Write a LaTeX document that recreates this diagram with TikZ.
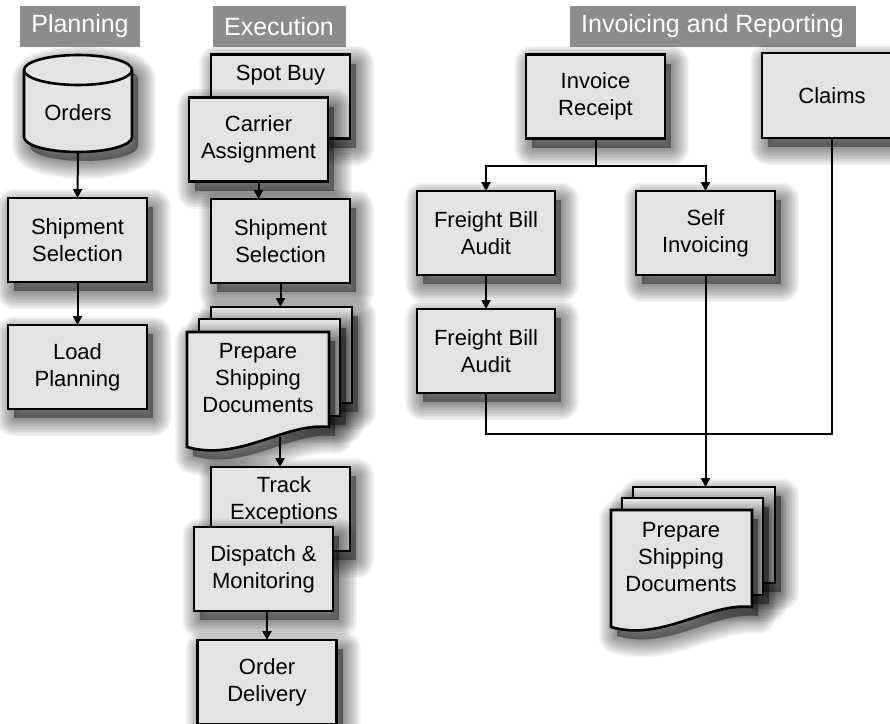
\documentclass[tikz,border=0pt]{standalone}
\usepackage{fontspec}
\setmainfont{Liberation Sans}
\usetikzlibrary{arrows.meta}

\definecolor{boxfill}{HTML}{E3E3E3}
\definecolor{hdrfill}{HTML}{8C8C8C}

\tikzset{
  shadelayer/.style={preaction={transform canvas={shift={(6pt,-9pt)}}, draw=black, fill=black,
    opacity=0.042, line width=#1, line join=round}},
  softshadow/.style={shadelayer=36pt, shadelayer=33pt, shadelayer=30pt, shadelayer=27pt,
    shadelayer=24pt, shadelayer=21pt, shadelayer=18pt, shadelayer=15pt, shadelayer=12pt,
    shadelayer=9pt, shadelayer=6pt, shadelayer=3pt},
  procbox/.style={draw, line width=2.6pt, fill=boxfill, rectangle, minimum width=139pt,
    minimum height=84pt, inner sep=0pt, outer sep=0pt, align=center,
    font=\fontsize{22}{27}\selectfont, softshadow},
  sheet/.style={draw, line width=2.6pt, fill=boxfill, softshadow},
  sheetbox/.style={draw, line width=2.6pt, fill=boxfill, rectangle, inner sep=0pt, outer sep=0pt, softshadow},
  doctext/.style={align=center, inner sep=0pt, font=\fontsize{22}{27}\selectfont},
  arr/.style={line width=2pt, -{Triangle[length=9pt,width=9pt]}},
  wire/.style={line width=2pt},
  hdr/.style={fill=hdrfill, text=white, inner sep=0pt, outer sep=0pt, minimum height=41pt,
    font=\fontsize{25}{28}\selectfont},
}

\begin{document}
\begin{tikzpicture}[x=1pt,y=-1pt]
\useasboundingbox (0,0) rectangle (890,723);
\clip (0,0) rectangle (890,723);

% column headers
\node[hdr, minimum width=120pt] (hplan) at (80,26.5) {Planning};
\node[hdr, minimum width=133pt] (hexec) at (279,26.5) {Execution};
\node[hdr, minimum width=286pt] (hinv) at (712.5,26.5) {Invoicing and Reporting};

% ---------- Planning ----------
\path[sheet] (24,70) -- (24,137)
  arc[start angle=180, end angle=360, x radius=54pt, y radius=15pt]
  -- (132,70)
  arc[start angle=0, end angle=180, x radius=54pt, y radius=15pt] -- cycle;
\draw[line width=2.6pt] (24,70) arc[start angle=180, end angle=360, x radius=54pt, y radius=15pt];
\node[rectangle, minimum width=108pt, minimum height=97pt, inner sep=0pt, outer sep=0pt] (orders) at (78,103.5) {};
\node[doctext] (orderstext) at (78,113) {Orders};

\node[procbox] (shipP) at (77.5,240) {Shipment\\Selection};
\node[procbox] (loadP) at (77.5,367) {Load\\Planning};

% ---------- Execution ----------
\node[procbox] (spot) at (280.5,96.5) {};
\node[doctext] (spottext) at (280.5,75) {Spot Buy};
\node[procbox] (carrier) at (258.5,139.5) {Carrier\\Assignment};
\node[procbox] (ship2) at (280.5,241) {Shipment\\Selection};

% stacked shipping documents
\node[sheetbox, minimum width=141pt, minimum height=96pt] (docAback) at (281.5,355) {};
\node[sheetbox, minimum width=141pt, minimum height=97pt] (docAmid) at (269.5,367.5) {};
\path[sheet] (187,332) -- (329,332) -- (329,427)
  .. controls (285,422) and (240,462) .. (187,447) -- cycle;
\node[doctext] (docA) at (258,378) {Prepare\\Shipping\\Documents};
\coordinate (docAtail) at (280,437);

\node[procbox] (track) at (280.5,509) {};
\node[doctext] (tracktext) at (284,500) {Track\\Exceptions};
\node[procbox] (dispatch) at (263.5,569) {Dispatch \&\\Monitoring};
\node[procbox] (delivery) at (267,682) {Order\\Delivery};

% ---------- Invoicing and Reporting ----------
\node[procbox] (inv) at (595.5,96.5) {Invoice\\Receipt};
\node[procbox, minimum width=140pt, minimum height=85pt] (claims) at (832,95.5) {Claims};
\node[procbox, minimum width=138pt] (fba1) at (486,233) {Freight Bill\\Audit};
\node[procbox] (selfinv) at (705.5,233) {Self\\Invoicing};
\node[procbox, minimum width=138pt] (fba2) at (486,351) {Freight Bill\\Audit};

\node[sheetbox, minimum width=142pt, minimum height=96pt] (docBback) at (704,535) {};
\node[sheetbox, minimum width=141pt, minimum height=97pt] (docBmid) at (692.5,546.5) {};
\path[sheet] (611,510) -- (752,510) -- (752,607)
  .. controls (708,602) and (663,642) .. (611,627) -- cycle;
\node[doctext] (docB) at (681,557) {Prepare\\Shipping\\Documents};

\coordinate (mergept) at (832,434);

% ---------- connectors ----------
\draw[arr] (orders.south) -- (shipP.north);
\draw[arr] (shipP.south) -- (loadP.north);

\draw[arr] (carrier.south) -- (carrier.south |- ship2.north);
\draw[arr] (ship2.south) -- (ship2.south |- docAback.north);
\draw[arr] (docAtail) -- (docAtail |- track.north);
\draw[arr] (delivery.north |- dispatch.south) -- (delivery.north);

\draw[arr] (inv.south) -- ++(0,27) -| (fba1.north);
\draw[arr] (inv.south) ++(0,27) -| (selfinv.north);
\draw[arr] (fba1.south) -- (fba2.north);
\draw[wire] (fba2.south) |- (mergept) -- (claims.south);
\draw[arr] (selfinv.south) -- (selfinv.south |- docBback.north);
\end{tikzpicture}
\end{document}
